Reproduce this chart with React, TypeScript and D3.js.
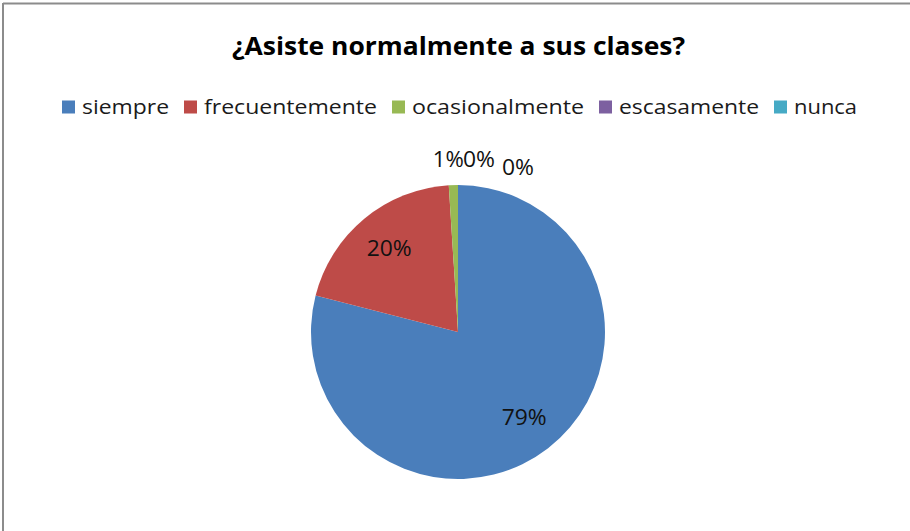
import React from "react";
import * as d3 from "d3";

const categories = ["siempre", "frecuentemente", "ocasionalmente", "escasamente", "nunca"];
const values = [79, 20, 1, 0, 0];
const valueLabels = ["79%", "20%", "1%", "0%", "0%"];
const colors = ["#4A7EBB", "#BE4B48", "#98B954", "#7D60A0", "#46AAC5"];
const title = "¿Asiste normalmente a sus clases?";

const W = 910;
const H = 531;
const FONT = "'Open Sans', 'Noto Sans', sans-serif";

// legend text widths (to mimic Calibri's narrow metrics)
const legendTextWidths = [87, 173, 172, 140, 63];

export default function App() {
  const cx = 458;
  const cy = 332;
  const r = 147;
  const pie = d3.pie<number>().sort(null).value((d) => d)(values);
  const arc = d3.arc<d3.PieArcDatum<number>>().innerRadius(0).outerRadius(r);
  const labelArc = d3.arc<d3.PieArcDatum<number>>().innerRadius(r * 0.735).outerRadius(r * 0.735);

  // outside label adjustments (collision spreading for tiny slices)
  const outsideShift = [
    [0, 0],
    [0, 0],
    [11, 2],
    [5, 2],
    [44, 10],
  ];

  // legend layout
  const sq = 13;
  const gapSqText = 7;
  const gapItems = 15;
  let lx = 62;
  const legendItems = categories.map((c, i) => {
    const item = { x: lx, c, i };
    lx += sq + gapSqText + legendTextWidths[i] + gapItems;
    return item;
  });

  return (
    <svg
      width={W}
      height={H}
      style={{ position: "absolute", left: 0, top: 0, background: "#fff" }}
      fontFamily={FONT}
    >
      <rect x={0} y={0} width={W} height={H} fill="#fff" />
      <line x1={3} y1={3.5} x2={W} y2={3.5} stroke="#8c8c8c" strokeWidth={2} />
      <line x1={3} y1={3} x2={3} y2={H} stroke="#8c8c8c" strokeWidth={2} />

      <text
        x={232}
        y={55}
        fontSize={25}
        fontWeight="bold"
        fill="#000"
        textLength={453}
        lengthAdjust="spacingAndGlyphs"
      >
        {title}
      </text>

      {legendItems.map(({ x, c, i }) => (
        <g key={c}>
          <rect x={x} y={100.5} width={sq} height={sq} fill={colors[i]} />
          <text
            x={x + sq + gapSqText}
            y={113.5}
            fontSize={20.5}
            fill="#1a1a1a"
            textLength={legendTextWidths[i]}
            lengthAdjust="spacingAndGlyphs"
          >
            {c}
          </text>
        </g>
      ))}

      <g transform={`translate(${cx},${cy})`}>
        {pie.map((d, i) => (
          <path key={i} d={arc(d) || ""} fill={colors[i]} />
        ))}
        {pie.map((d, i) => {
          if (values[i] >= 5) {
            const [x, y] = labelArc.centroid(d);
            return (
              <text
                key={"l" + i}
                x={x}
                y={y}
                dy="0.35em"
                textAnchor="middle"
                fontSize={21}
                fill="#111"
                textLength={45}
                lengthAdjust="spacingAndGlyphs"
              >
                {valueLabels[i]}
              </text>
            );
          }
          const mid = (d.startAngle + d.endAngle) / 2;
          const rr = r + 20;
          const x = Math.sin(mid) * rr + outsideShift[i][0];
          const y = -Math.cos(mid) * rr + outsideShift[i][1];
          return (
            <text
              key={"l" + i}
              x={x}
              y={y}
              textAnchor={i === 2 ? "end" : "start"}
              fontSize={21}
              fill="#111"
              textLength={i === 2 ? 31 : 32}
              lengthAdjust="spacingAndGlyphs"
            >
              {valueLabels[i]}
            </text>
          );
        })}
      </g>
    </svg>
  );
}
